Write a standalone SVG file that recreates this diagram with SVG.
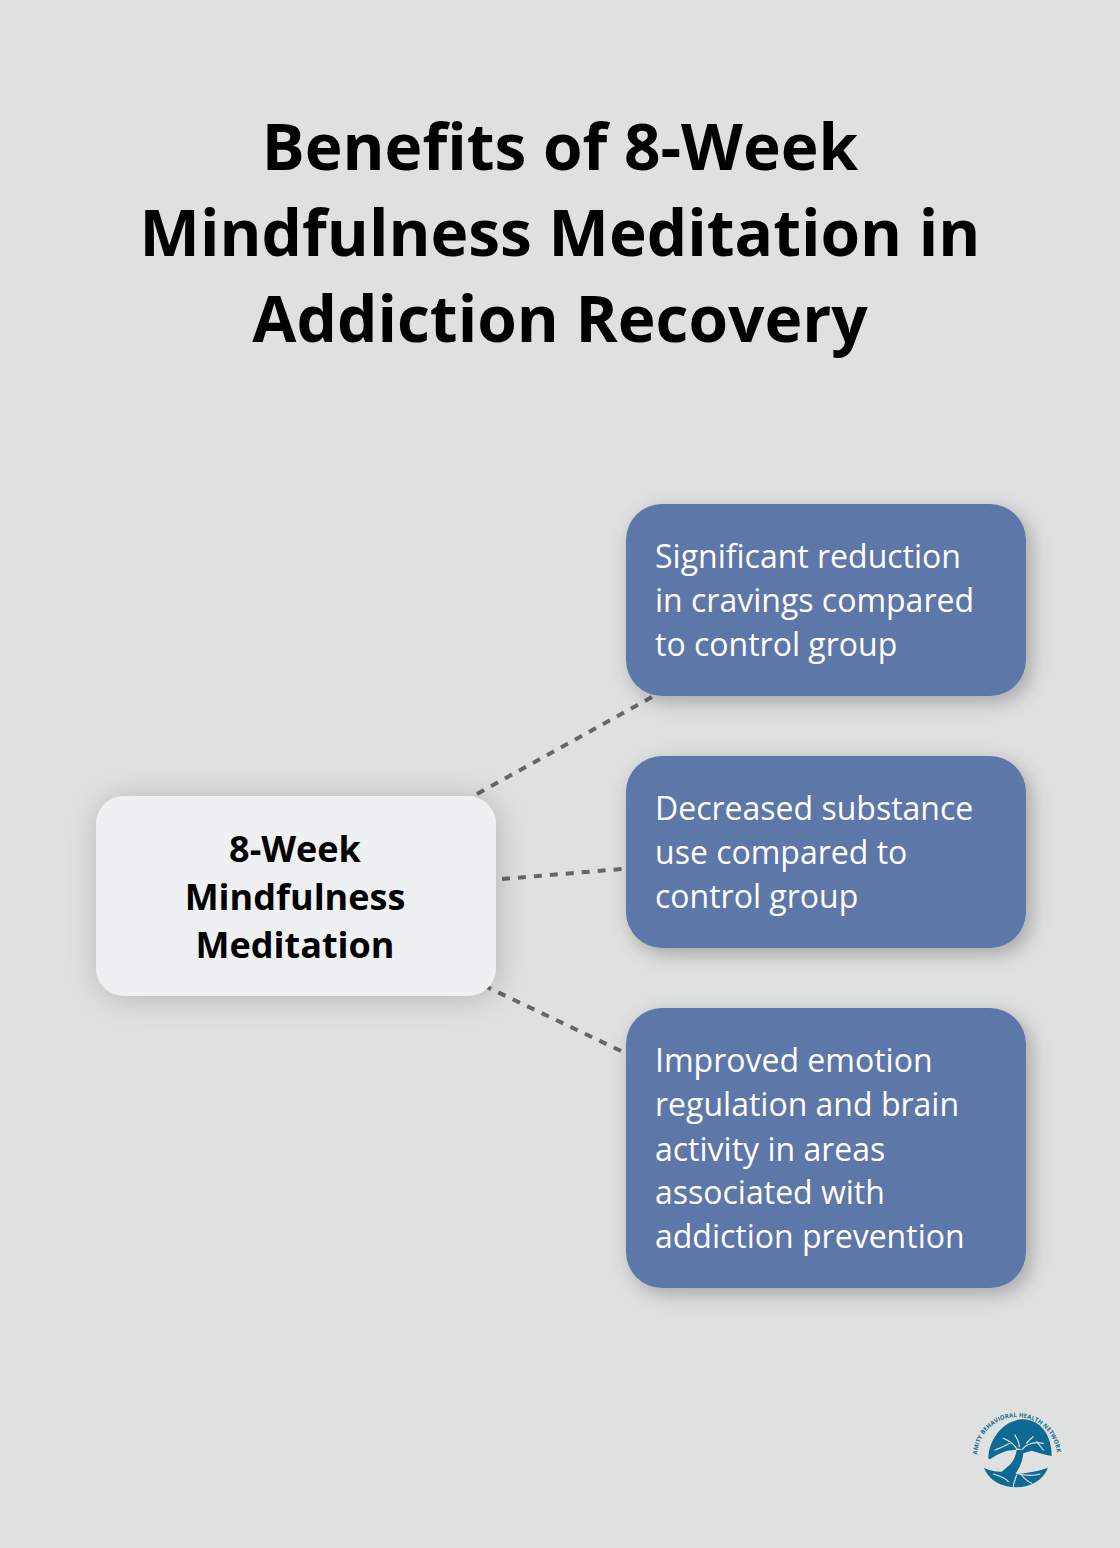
<svg xmlns="http://www.w3.org/2000/svg" width="1120" height="1548" viewBox="0 0 1120 1548">
<style>
text{font-family:"Open Sans","Noto Sans","DejaVu Sans",sans-serif}
.t{font-size:64px;font-weight:700;fill:#000;text-anchor:middle}
.c{font-size:36px;font-weight:700;fill:#000;text-anchor:middle}
.b{font-size:32px;fill:#fff}
.box{fill:#5d77a8;filter:url(#s)}
.lnk{stroke:#666;stroke-width:4;stroke-dasharray:8 8;fill:none}
.lg{fill:#0f6a94}
.tw{stroke:#dfe1e0;fill:none;stroke-linecap:round}
</style>
<defs>
<filter id="s" x="-20%" y="-20%" width="140%" height="150%"><feDropShadow dx="5" dy="6" stdDeviation="10" flood-color="#000" flood-opacity=".27"/></filter>
<filter id="s2" x="-25%" y="-35%" width="150%" height="170%"><feDropShadow dx="2" dy="2" stdDeviation="15" flood-color="#000" flood-opacity=".2"/></filter>
<filter id="soft" x="-5%" y="-5%" width="110%" height="110%"><feGaussianBlur stdDeviation=".3"/></filter>
<path id="arc" d="M977 1458A40 40 0 1 1 1057 1456"/>
</defs>
<rect width="1120" height="1548" fill="#dfe1e0"/>
<g id="title">
<text class="t" x="560" y="170">Benefits of 8-Week</text>
<text class="t" x="560" y="256">Mindfulness Meditation in</text>
<text class="t" x="560" y="342">Addiction Recovery</text>
</g>
<g id="connectors">
<line class="lnk" x1="477" y1="794" x2="652" y2="697"/>
<line class="lnk" x1="502" y1="879" x2="622" y2="869"/>
<line class="lnk" x1="621" y1="1051" x2="487" y2="987"/>
</g>
<g id="center">
<rect x="96" y="796" width="400" height="200" rx="28" fill="#eff0f2" filter="url(#s2)"/>
<text class="c" x="295" y="862">8-Week</text>
<text class="c" x="295" y="910">Mindfulness</text>
<text class="c" x="295" y="958">Meditation</text>
</g>
<g id="benefit1">
<rect class="box" x="626" y="504" width="400" height="192" rx="36"/>
<text class="b" x="655" y="568">Significant reduction</text>
<text class="b" x="655" y="612">in cravings compared</text>
<text class="b" x="655" y="656">to control group</text>
</g>
<g id="benefit2">
<rect class="box" x="626" y="756" width="400" height="192" rx="36"/>
<text class="b" x="655" y="820">Decreased substance</text>
<text class="b" x="655" y="864">use compared to</text>
<text class="b" x="655" y="908">control group</text>
</g>
<g id="benefit3">
<rect class="box" x="626" y="1008" width="400" height="280" rx="36"/>
<text class="b" x="655" y="1072">Improved emotion</text>
<text class="b" x="655" y="1116">regulation and brain</text>
<text class="b" x="655" y="1161">activity in areas</text>
<text class="b" x="655" y="1204">associated with</text>
<text class="b" x="655" y="1248">addiction prevention</text>
</g>
<g id="logo">
<text font-size="6" font-weight="700" fill="#0f6a94" letter-spacing=".1"><textPath href="#arc" startOffset="50%" text-anchor="middle">AMITY BEHAVIORAL HEALTH NETWORK</textPath></text>
<g transform="translate(960 1400) scale(.3333)" filter="url(#soft)">
<path class="lg" d="M85 175C85 120 130 58 190 58C245 60 276 110 275 168C255 164 235 158 215 152L190 160C185 145 175 142 165 150C140 150 115 160 90 178Z"/>
<g class="tw" stroke-width="3.5">
<path d="M175 160C170 135 150 125 130 115"/>
<path d="M178 140C178 125 170 115 165 105"/>
<path d="M185 150C200 130 225 125 250 130"/>
<path d="M200 130C205 120 215 115 220 110"/>
<path d="M150 130C140 135 120 145 105 150"/>
<path d="M230 125L250 150"/>
</g>
<path class="lg" d="M125 215C150 195 165 185 170 150L190 150C190 190 175 205 165 225Z"/>
<path class="lg" d="M72 203C95 215 115 215 130 215L170 222C200 220 240 212 264 203C250 240 210 262 170 262C125 262 85 240 72 203Z"/>
<g class="tw" stroke-width="3.5">
<path d="M100 222C120 228 135 232 145 245"/>
<path d="M170 225C165 240 160 250 160 260"/>
<path d="M185 225C195 240 205 245 215 250"/>
<path d="M175 222C190 225 220 228 240 222"/>
</g>
</g>
</g>
</svg>
